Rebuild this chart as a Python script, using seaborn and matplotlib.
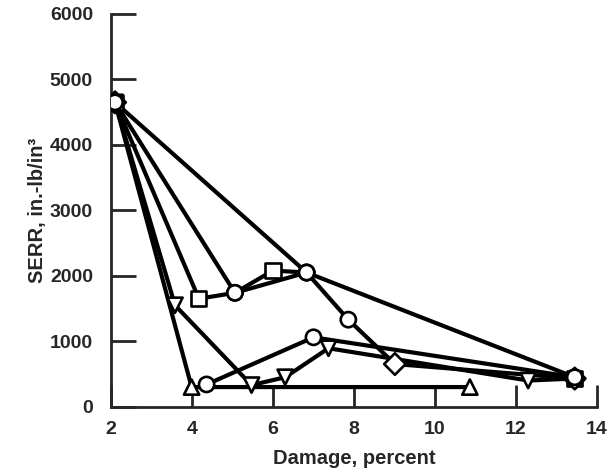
import matplotlib
matplotlib.use("Agg")
import matplotlib.pyplot as plt
import seaborn as sns
import pandas as pd

# ---- data ----
p1_x = [2.1, 4.17, 5.06, 6.0, 6.83, 7.86, 9.01, 13.45]
p1_y = [4650, 1650, 1740, 2080, 2050, 1330, 652, 430]
p1_m = ["s", "s", "o", "s", "o", "o", "D", "D"]

p2_x = [2.1, 5.06, 6.83]
p2_y = [4650, 1740, 2050]
p2_m = ["D", "o", "o"]

p3_x = [2.1, 6.83, 13.45]
p3_y = [4650, 2050, 450]
p3_m = ["o", "o", "o"]

p4_x = [2.1, 3.58, 5.47, 6.3, 7.37, 12.3, 13.45]
p4_y = [4650, 1550, 330, 450, 893, 400, 430]
p4_m = ["v", "v", "v", "v", "v", "v", "s"]

p5_x = [2.1, 3.99, 10.86]
p5_y = [4650, 300, 300]
p5_m = ["^", "^", "^"]

p6_x = [4.36, 7.0, 13.45]
p6_y = [340, 1060, 450]
p6_m = ["o", "o", "o"]

x_ticks = [2, 4, 6, 8, 10, 12, 14]
y_ticks = [0, 1000, 2000, 3000, 4000, 5000, 6000]

series = {
    "P4": (p4_x, p4_y, p4_m),
    "P5": (p5_x, p5_y, p5_m),
    "P1": (p1_x, p1_y, p1_m),
    "P2": (p2_x, p2_y, p2_m),
    "P6": (p6_x, p6_y, p6_m),
    "P3": (p3_x, p3_y, p3_m),
}
rows = []
for name, (xs, ys, ms) in series.items():
    for i, (xv, yv, mv) in enumerate(zip(xs, ys, ms)):
        rows.append({"series": name, "order": i, "x": xv, "y": yv, "marker": mv})
df = pd.DataFrame(rows)

sns.set_style("ticks")
plt.rcParams["font.family"] = ["Liberation Sans", "DejaVu Sans"]

fig = plt.figure(figsize=(6.14, 4.72), dpi=100)
ax = fig.add_axes([111 / 614, 1 - 406.7 / 472, (597 - 111) / 614, (406.7 - 14) / 472])

sns.lineplot(data=df, x="x", y="y", units="series", estimator=None, sort=False,
             color="black", linewidth=3.0, ax=ax, legend=False, zorder=2)
sns.scatterplot(data=df, x="x", y="y", style="marker",
                markers={"o": "o", "s": "s", "D": "D", "v": "v", "^": "^"},
                s=120, facecolor="white", edgecolor="black", linewidth=1.9,
                ax=ax, legend=False, zorder=3)

ax.set_xlim(2, 14)
ax.set_ylim(0, 6000)
ax.set_xticks(x_ticks)
ax.set_yticks(y_ticks)
ax.set_xticklabels([str(t) for t in x_ticks], fontsize=14, fontweight="bold")
ax.set_yticklabels([str(t) for t in y_ticks], fontsize=14, fontweight="bold")
ax.tick_params(axis="y", direction="in", length=18, width=2.0, pad=13)
ax.tick_params(axis="x", direction="in", length=16, width=2.0, pad=10)
for side in ["top", "right"]:
    ax.spines[side].set_visible(False)
for side in ["left", "bottom"]:
    ax.spines[side].set_linewidth(2.0)

ax.set_xlabel("Damage, percent", fontsize=14.5, fontweight="bold", labelpad=8)
ax.set_ylabel("SERR, in.-lb/in³", fontsize=14.5, fontweight="bold", labelpad=2)

fig.savefig("out.png", dpi=100)
